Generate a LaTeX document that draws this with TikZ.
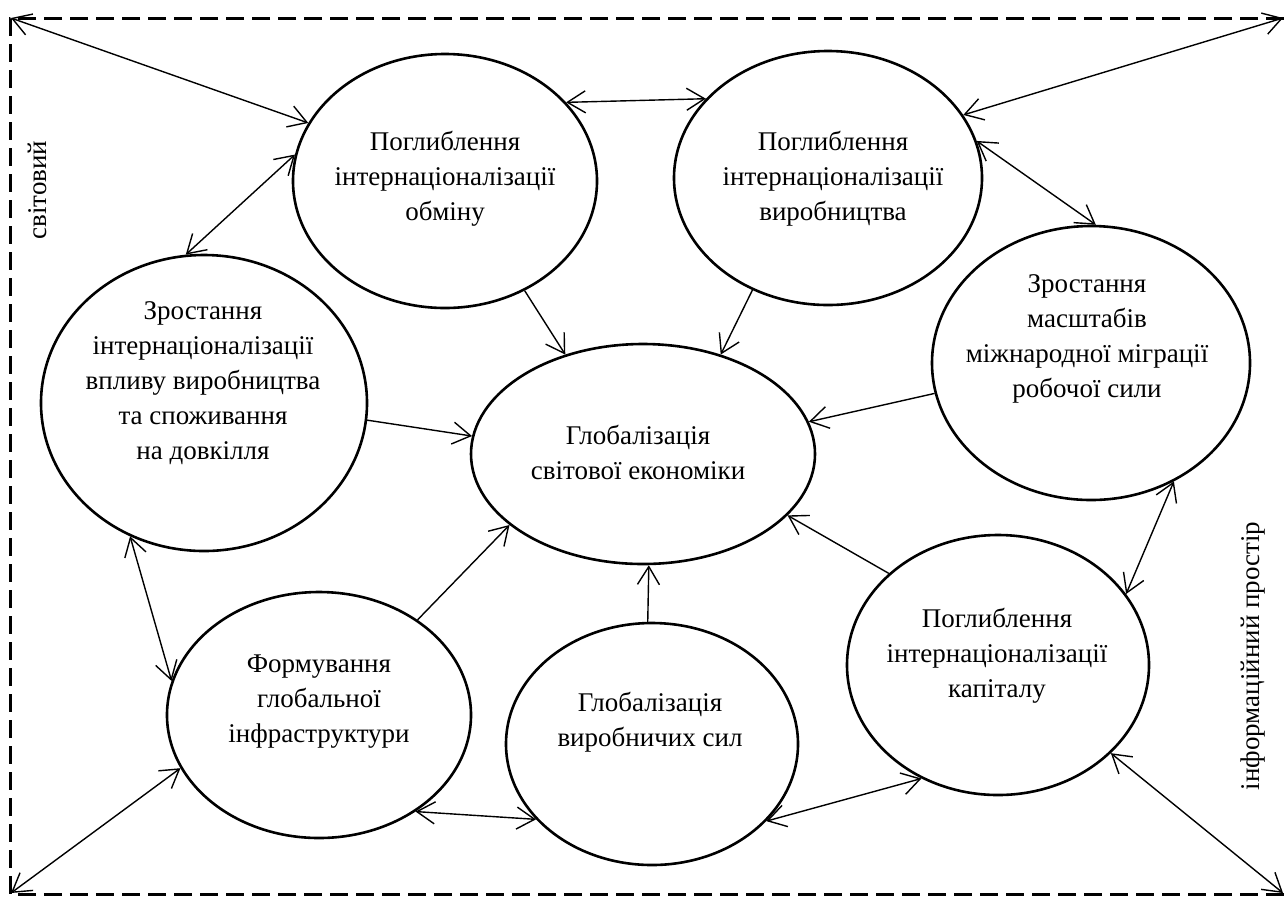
\documentclass[tikz,border=0pt]{standalone}
\usepackage{fontspec}
\setmainfont{Liberation Serif}
\usetikzlibrary{arrows.meta,shapes.geometric}

\tikzset{
  bubble/.style={draw,ellipse,line width=1.3pt,inner sep=0pt},
  bubtext/.style={align=center,font=\fontsize{13.5}{17.5}\selectfont},
  sidetext/.style={rotate=90,font=\fontsize{13.5}{17.5}\selectfont},
  link/.style={line width=0.7pt,-{Straight Barb[length=9pt,width=11pt]}},
  dlink/.style={line width=0.7pt,
    {Straight Barb[length=9pt,width=11pt]}-{Straight Barb[length=9pt,width=11pt]}},
  frame/.style={line width=1.5pt,dash pattern=on 9pt off 4pt},
}

\begin{document}
\begin{tikzpicture}[x=0.5pt,y=-0.5pt]
  \useasboundingbox (0,0) rectangle (1284,896);
  %% Dashed frame (open on the right)
  \draw[frame] (1284,18) -- (10,18) -- (10,894) -- (1284,894);
  \coordinate (tl) at (11,18);
  \coordinate (tr) at (1283,18);
  \coordinate (bl) at (11,893);
  \coordinate (br) at (1283,893);
  %% Side labels
  \node[sidetext] (svit) at (37,190) {світовий};
  \node[sidetext] (info) at (1253,656) {інформаційний простір};
  %% Ellipses
  \node[bubble,minimum width=152pt,minimum height=127pt] (obmin) at (445,181) {};
  \node[bubble,minimum width=154pt,minimum height=127pt] (vyrob) at (828,178) {};
  \node[bubble,minimum width=159pt,minimum height=137pt] (mihr)  at (1091,363) {};
  \node[bubble,minimum width=163pt,minimum height=148pt] (dovk)  at (204,403) {};
  \node[bubble,minimum width=172pt,minimum height=110pt] (glob)  at (643,454) {};
  \node[bubble,minimum width=152pt,minimum height=123pt] (infra) at (319,715) {};
  \node[bubble,minimum width=146pt,minimum height=121pt] (syly)  at (652,744) {};
  \node[bubble,minimum width=151pt,minimum height=130pt] (kapit) at (998,665) {};
  %% Texts in the ellipses
  \node[bubtext] (obmin-t) at (445,179)
       {Поглиблення\\інтернаціоналізації\\обміну};
  \node[bubtext] (vyrob-t) at (833,179)
       {Поглиблення\\інтернаціоналізації\\виробництва};
  \node[bubtext] (mihr-t) at (1087,339)
       {Зростання\\масштабів\\міжнародної міграції\\робочої сили};
  \node[bubtext] (dovk-t) at (203,383)
       {Зростання\\інтернаціоналізації\\впливу виробництва\\та споживання\\на довкілля};
  \node[bubtext] (glob-t) at (638,452)
       {Глобалізація\\світової економіки};
  \node[bubtext] (infra-t) at (319,702)
       {Формування\\глобальної\\інфраструктури};
  \node[bubtext] (syly-t) at (650,722)
       {Глобалізація\\виробничих сил};
  \node[bubtext] (kapit-t) at (997,656)
       {Поглиблення\\інтернаціоналізації\\капіталу};
  %% Corners of the frame
  \draw[dlink] (tl) -- (obmin.157);
  \draw[dlink] (tr) -- (vyrob.25);
  \draw[dlink] (bl) -- (infra.201);
  \draw[dlink] (br) -- (kapit.322);
  %% Links round the ring
  \draw[dlink] (obmin.33) -- (vyrob.147);
  \draw[dlink] (obmin.170) -- (dovk.97);
  \draw[dlink] (vyrob.14) -- (mihr.88);
  \draw[dlink] (mihr.305) -- (kapit.29);
  \draw[dlink] (dovk.241) -- (infra.167);
  \draw[dlink] (infra.315) -- (syly.213);
  \draw[dlink] (syly.326) -- (kapit.236);
  %% Links into the centre
  \draw[link] (obmin.306) -- (glob.128);
  \draw[link] (vyrob.236) -- (glob.52);
  \draw[link] (dovk.354) -- (glob.174);
  \draw[link] (mihr.191) -- (glob.11);
  \draw[link] (infra.44) -- (glob.208);
  \draw[link] (syly.92) -- (glob.273);
  \draw[link] (kapit.140) -- (glob.337);
\end{tikzpicture}
\end{document}
